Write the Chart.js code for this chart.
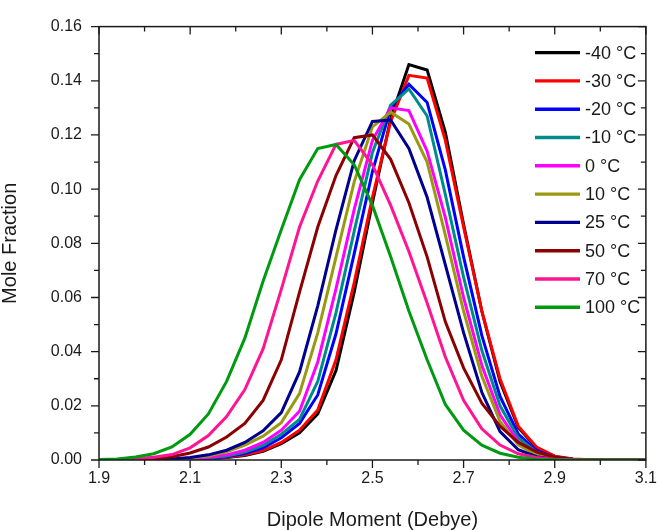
<!DOCTYPE html>
<html lang="en">
<head>
<meta charset="UTF-8">
<title>Dipole Moment Distribution</title>
<script src="https://cdn.jsdelivr.net/npm/chart.js"></script>
<style>
  html, body { margin: 0; padding: 0; background: #fff; }
  #chart { display: block; }
</style>
</head>
<body>
<canvas id="chart" width="666" height="530"></canvas>
<script>
// dipole moment bins (Debye)
const dipole = [1.90, 1.94, 1.98, 2.02, 2.06, 2.10, 2.14, 2.18, 2.22, 2.26,
                2.30, 2.34, 2.38, 2.42, 2.46, 2.50, 2.54, 2.58, 2.62, 2.66,
                2.70, 2.74, 2.78, 2.82, 2.86, 2.90, 2.94, 2.98, 3.02, 3.06, 3.10];

const xTickLabels = [1.9, 2.1, 2.3, 2.5, 2.7, 2.9, 3.1];
const yTickLabels = [0, 0.02, 0.04, 0.06, 0.08, 0.10, 0.12, 0.14, 0.16];

const seriesNames = ['-40 °C', '-30 °C', '-20 °C', '-10 °C', '0 °C', '10 °C', '25 °C', '50 °C', '70 °C', '100 °C'];
const seriesColors = ['#000000', '#ff0000', '#0000ff', '#008b8b', '#ff00ff', '#9a9a12', '#000090', '#8b0000', '#ff1493', '#009a10'];

// mole fraction per bin
const tM40 = [0, 0, 0, 0, 0, 0.0002, 0.0004, 0.0009, 0.0017, 0.0032,
              0.006, 0.010, 0.017, 0.033, 0.062, 0.095, 0.126, 0.146, 0.144, 0.121,
              0.087, 0.055, 0.029, 0.012, 0.0045, 0.0013, 0.0003, 0.0001, 0, 0, 0];
const tM30 = [0, 0, 0, 0, 0, 0.0002, 0.0005, 0.001, 0.0019, 0.0035,
              0.0065, 0.011, 0.0185, 0.037, 0.0655, 0.097, 0.125, 0.142, 0.141, 0.118,
              0.086, 0.055, 0.030, 0.0125, 0.0048, 0.0014, 0.0004, 0.0001, 0, 0, 0];
const tM20 = [0, 0, 0, 0, 0.0001, 0.0003, 0.0006, 0.0012, 0.0024, 0.0045,
              0.0082, 0.0135, 0.024, 0.0466, 0.0762, 0.1065, 0.130, 0.1387, 0.132, 0.107,
              0.075, 0.046, 0.0235, 0.0096, 0.0035, 0.001, 0.0003, 0.0001, 0, 0, 0];
const tM10 = [0, 0, 0, 0, 0.0002, 0.0004, 0.0008, 0.0015, 0.0029, 0.0054,
              0.0095, 0.015, 0.029, 0.0543, 0.0845, 0.1135, 0.131, 0.137, 0.127, 0.098,
              0.0675, 0.0405, 0.020, 0.0081, 0.0029, 0.0009, 0.0002, 0, 0, 0, 0];
const t0 = [0, 0, 0, 0.0001, 0.0002, 0.0005, 0.001, 0.0019, 0.0036, 0.0065,
            0.011, 0.018, 0.0362, 0.0632, 0.0925, 0.118, 0.130, 0.129, 0.114, 0.0895,
            0.060, 0.035, 0.0167, 0.0067, 0.0023, 0.0007, 0.0002, 0, 0, 0, 0];
const t10 = [0, 0, 0, 0.0002, 0.0003, 0.0007, 0.0015, 0.003, 0.0055, 0.0088,
             0.0138, 0.0245, 0.0469, 0.0749, 0.1027, 0.123, 0.1284, 0.124, 0.110, 0.083,
             0.055, 0.031, 0.0142, 0.0056, 0.0018, 0.0005, 0.0001, 0, 0, 0, 0];
const t25 = [0, 0, 0.0001, 0.0002, 0.0004, 0.0009, 0.0019, 0.0036, 0.0065, 0.0108,
             0.0175, 0.0325, 0.0569, 0.085, 0.1105, 0.125, 0.1255, 0.115, 0.097, 0.072,
             0.047, 0.025, 0.0105, 0.0038, 0.0012, 0.0003, 0.0001, 0, 0, 0, 0];
const t50 = [0, 0, 0.0001, 0.0004, 0.0012, 0.0026, 0.0048, 0.0085, 0.0135, 0.022,
             0.037, 0.062, 0.086, 0.105, 0.119, 0.120, 0.111, 0.095, 0.075, 0.051,
             0.034, 0.021, 0.0125, 0.0065, 0.003, 0.001, 0.0003, 0.0001, 0, 0, 0];
const t70 = [0.0001, 0.0002, 0.0005, 0.001, 0.002, 0.0045, 0.009, 0.016, 0.026, 0.041,
             0.063, 0.086, 0.103, 0.1165, 0.118, 0.109, 0.094, 0.077, 0.058, 0.038,
             0.022, 0.0115, 0.0055, 0.0023, 0.0009, 0.0003, 0.0001, 0, 0, 0, 0];
const t100 = [0.0002, 0.0004, 0.0011, 0.0023, 0.0048, 0.0095, 0.017, 0.029, 0.045, 0.066,
              0.085, 0.1035, 0.115, 0.1165, 0.109, 0.094, 0.075, 0.055, 0.037, 0.0205,
              0.011, 0.0055, 0.0025, 0.001, 0.0003, 0.0001, 0, 0, 0, 0, 0];

const allSeries = [tM40, tM30, tM20, tM10, t0, t10, t25, t50, t70, t100];

const FONT = '"Liberation Sans", Arial, sans-serif';
const INK = '#1a1a1a';

// frame, minor/major ticks and the inside legend
const framePlugin = {
    id: 'frame',
    afterDatasetsDraw(chart) {
        const ctx = chart.ctx;
        const a = chart.chartArea;
        const x = chart.scales.x;
        const y = chart.scales.y;
        ctx.save();
        ctx.strokeStyle = INK;
        ctx.lineWidth = 1.5;
        ctx.strokeRect(a.left, a.top, a.right - a.left, a.bottom - a.top);

        ctx.lineWidth = 1.3;
        ctx.beginPath();
        for (let i = 0; i <= 12; i++) {
            const px = x.getPixelForValue(1.9 + i * 0.1);
            const len = i % 2 === 0 ? 8 : 5;
            ctx.moveTo(px, a.bottom); ctx.lineTo(px, a.bottom + len);
            ctx.moveTo(px, a.top); ctx.lineTo(px, a.top + len);
        }
        for (let i = 0; i <= 16; i++) {
            const py = y.getPixelForValue(i * 0.01);
            const len = i % 2 === 0 ? 8 : 5;
            ctx.moveTo(a.left, py); ctx.lineTo(a.left - len, py);
            ctx.moveTo(a.right, py); ctx.lineTo(a.right - len, py);
        }
        ctx.stroke();

        // legend
        ctx.font = '18px ' + FONT;
        ctx.textBaseline = 'middle';
        ctx.textAlign = 'left';
        chart.data.datasets.forEach((ds, i) => {
            const ly = a.top + 26 + i * 28.3;
            ctx.strokeStyle = ds.borderColor;
            ctx.lineWidth = 3.4;
            ctx.beginPath();
            ctx.moveTo(a.left + 436, ly);
            ctx.lineTo(a.left + 481, ly);
            ctx.stroke();
            ctx.fillStyle = INK;
            ctx.fillText(ds.label, a.left + 486, ly + 1);
        });
        ctx.restore();
    }
};

const datasets = allSeries.map((vals, i) => ({
    label: seriesNames[i],
    data: dipole.map((d, j) => ({ x: d, y: vals[j] })),
    borderColor: seriesColors[i],
    backgroundColor: seriesColors[i],
    borderWidth: 3,
    pointRadius: 0,
    tension: 0,
    fill: false,
    order: 10 - i
}));

new Chart(document.getElementById('chart'), {
    type: 'line',
    data: { datasets: datasets },
    options: {
        responsive: false,
        animation: false,
        devicePixelRatio: 1,
        layout: { padding: { top: 9, right: 11, left: 0, bottom: 0 } },
        plugins: {
            legend: { display: false },
            tooltip: { enabled: false }
        },
        scales: {
            x: {
                type: 'linear',
                min: 1.9,
                max: 3.1,
                afterBuildTicks: s => { s.ticks = xTickLabels.map(v => ({ value: v })); },
                afterFit: s => { s.height = 70; },
                ticks: {
                    callback: v => v.toFixed(1),
                    font: { family: FONT, size: 16 },
                    color: INK,
                    padding: 9,
                    maxRotation: 0,
                    autoSkip: false
                },
                grid: { display: false, drawTicks: false },
                border: { display: false },
                title: {
                    display: true,
                    text: 'Dipole Moment (Debye)',
                    font: { family: FONT, size: 20, lineHeight: 1 },
                    color: INK,
                    padding: 0
                }
            },
            y: {
                min: 0,
                max: 0.16,
                afterBuildTicks: s => { s.ticks = yTickLabels.map(v => ({ value: v })); },
                afterFit: s => { s.width = 99; },
                ticks: {
                    callback: v => v.toFixed(2),
                    font: { family: FONT, size: 16 },
                    color: INK,
                    padding: 17
                },
                grid: { display: false, drawTicks: false },
                border: { display: false },
                title: {
                    display: true,
                    text: 'Mole Fraction',
                    font: { family: FONT, size: 20, lineHeight: 1 },
                    color: INK,
                    padding: 0
                }
            }
        }
    },
    plugins: [framePlugin]
});
</script>
</body>
</html>
